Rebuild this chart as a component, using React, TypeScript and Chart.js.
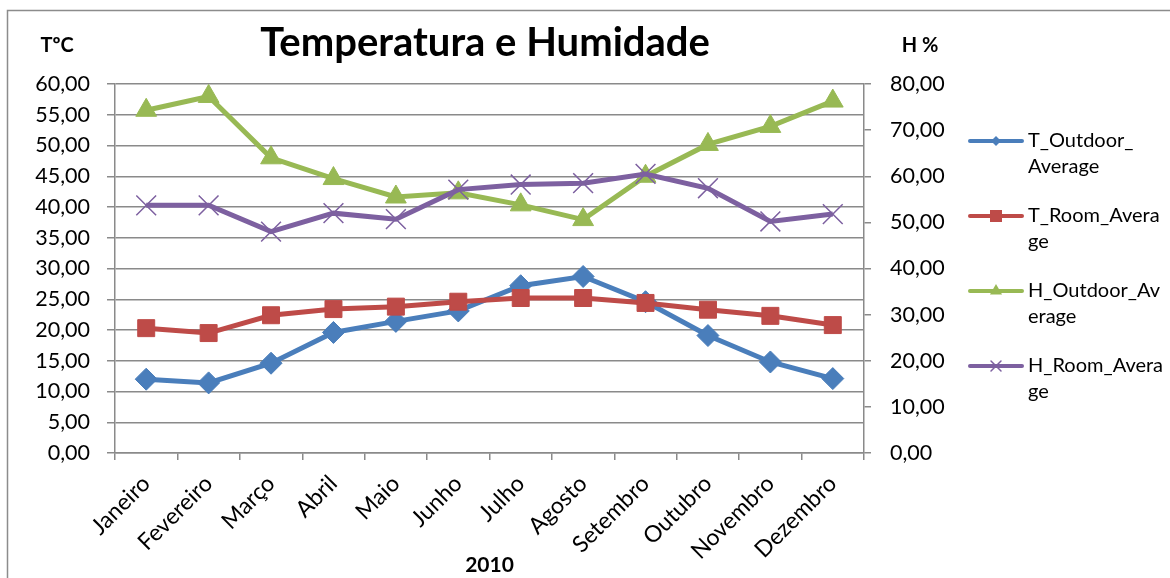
import React, { useEffect, useRef } from 'react';
import { Chart, registerables } from 'chart.js';

Chart.register(...registerables);

const months = ['Janeiro', 'Fevereiro', 'Março', 'Abril', 'Maio', 'Junho', 'Julho', 'Agosto', 'Setembro', 'Outubro', 'Novembro', 'Dezembro'];
const tOutdoor = [12.0, 11.4, 14.6, 19.6, 21.4, 23.1, 27.2, 28.7, 24.6, 19.1, 14.8, 12.1];
const tRoom = [20.3, 19.5, 22.4, 23.4, 23.8, 24.6, 25.2, 25.2, 24.4, 23.3, 22.3, 20.8];
const hOutdoor = [74.3, 77.3, 64.0, 59.5, 55.5, 56.4, 53.8, 50.6, 60.0, 66.9, 70.8, 76.3];
const hRoom = [53.7, 53.7, 48.0, 52.0, 50.7, 57.1, 58.2, 58.5, 60.5, 57.4, 50.2, 51.8];
const seriesNames = ['T_Outdoor_Average', 'T_Room_Average', 'H_Outdoor_Average', 'H_Room_Average'];
const legendLines = [['T_Outdoor_', 'Average'], ['T_Room_Avera', 'ge'], ['H_Outdoor_Av', 'erage'], ['H_Room_Avera', 'ge']];
const chartTitle = 'Temperatura e Humidade';
const leftTitle = 'TºC';
const rightTitle = 'H %';
const xTitle = '2010';

const FONT = 'Lato, "Noto Sans", sans-serif';
const GRID = '#8a8a8a';
const colors = ['#4A7EBB', '#BE4B48', '#98B954', '#7D60A0'];
const styles = ['rectRot', 'rect', 'triangle', 'crossRot'];

const fmt = (v: number) => v.toFixed(2).replace('.', ',');

function drawMarker(ctx: CanvasRenderingContext2D, style: string, x: number, y: number, r: number, color: string) {
  ctx.save();
  ctx.fillStyle = color;
  ctx.strokeStyle = color;
  ctx.beginPath();
  if (style === 'rectRot') {
    ctx.moveTo(x - r, y); ctx.lineTo(x, y - r); ctx.lineTo(x + r, y); ctx.lineTo(x, y + r); ctx.closePath(); ctx.fill();
  } else if (style === 'rect') {
    ctx.rect(x - r, y - r, 2 * r, 2 * r); ctx.fill();
  } else if (style === 'triangle') {
    ctx.moveTo(x, y - r);
    ctx.lineTo(x + r * 0.866, y + r * 0.5);
    ctx.lineTo(x - r * 0.866, y + r * 0.5);
    ctx.closePath(); ctx.fill();
  } else {
    ctx.lineWidth = 1.5;
    ctx.moveTo(x - r, y - r); ctx.lineTo(x + r, y + r);
    ctx.moveTo(x + r, y - r); ctx.lineTo(x - r, y + r);
    ctx.stroke();
  }
  ctx.restore();
}

const decor = {
  id: 'decor',
  beforeDraw(chart: any) {
    const ctx = chart.ctx as CanvasRenderingContext2D;
    ctx.save();
    ctx.fillStyle = '#fff';
    ctx.fillRect(0, 0, chart.width, chart.height);
    ctx.strokeStyle = '#8c8c8c';
    ctx.lineWidth = 1.5;
    ctx.strokeRect(7.5, 10.5, 1400, 800);
    ctx.restore();
  },
  afterDraw(chart: any) {
    const ctx = chart.ctx as CanvasRenderingContext2D;
    ctx.save();
    ctx.fillStyle = '#000';
    ctx.textBaseline = 'middle';
    ctx.textAlign = 'center';
    ctx.font = `bold 40px ${FONT}`;
    ctx.fillText(chartTitle, 485, 43);
    ctx.font = `bold 20px ${FONT}`;
    ctx.fillText(leftTitle, 57, 46);
    ctx.fillText(rightTitle, 920, 46);
    // legend
    ctx.textAlign = 'left';
    ctx.font = `20px ${FONT}`;
    chart.data.datasets.forEach((ds: any, i: number) => {
      const y = 141 + i * 75;
      ctx.strokeStyle = ds.borderColor;
      ctx.lineWidth = 4;
      ctx.lineCap = 'round';
      ctx.beginPath();
      ctx.moveTo(970, y);
      ctx.lineTo(1022, y);
      ctx.stroke();
      const r = styles[i] === 'rect' ? 6 : styles[i] === 'triangle' ? 7 : 5;
      drawMarker(ctx, styles[i], 996, y, r, ds.borderColor);
      ctx.fillStyle = '#000';
      legendLines[i].forEach((t, j) => ctx.fillText(t, 1028, y + j * 26));
    });
    ctx.restore();
  },
};

export default function App() {
  const ref = useRef<HTMLCanvasElement>(null);
  useEffect(() => {
    if (!ref.current) return;
    const series = [tOutdoor, tRoom, hOutdoor, hRoom];
    const axes = ['y', 'y', 'y1', 'y1'];
    const radii = [11, 12, 12, 14];
    const chart = new Chart(ref.current, {
      type: 'line',
      data: {
        labels: months,
        datasets: series.map((d, i) => ({
          label: seriesNames[i],
          data: d,
          yAxisID: axes[i],
          borderColor: colors[i],
          backgroundColor: colors[i],
          pointBackgroundColor: colors[i],
          pointBorderColor: colors[i],
          pointBorderWidth: i === 3 ? 1.5 : 1,
          borderWidth: 5,
          pointStyle: styles[i] as any,
          pointRadius: radii[i],
          tension: 0,
          order: 4 - i,
        })),
      },
      options: {
        responsive: false,
        animation: false,
        devicePixelRatio: 1,
        layout: { padding: { top: 84, left: 0, right: 0, bottom: 0 } },
        plugins: { legend: { display: false }, title: { display: false }, tooltip: { enabled: false } },
        scales: {
          x: {
            type: 'category',
            offset: true,
            grid: { offset: true, drawOnChartArea: false, drawTicks: true, tickLength: 7, color: GRID, lineWidth: 1.5 },
            border: { display: true, color: GRID, width: 1.5 },
            ticks: { autoSkip: false, maxRotation: 45, minRotation: 45, padding: 10, color: '#000', font: { family: FONT, size: 23 } },
            title: { display: true, text: xTitle, color: '#000', padding: 0, font: { family: FONT, size: 21, weight: 'bold' } },
            afterFit: (s: any) => { s.height = 125; },
          },
          y: {
            position: 'left',
            min: 0,
            max: 60,
            ticks: { stepSize: 5, padding: 17, color: '#000', font: { family: FONT, size: 21.5 }, callback: (v: any) => fmt(Number(v)) },
            grid: { color: GRID, lineWidth: 1.5, tickLength: 8 },
            border: { display: true, color: GRID, width: 1.5 },
            afterFit: (s: any) => { s.width = 115; },
          },
          y1: {
            position: 'right',
            min: 0,
            max: 80,
            ticks: { stepSize: 10, padding: 19, color: '#000', font: { family: FONT, size: 21.5 }, callback: (v: any) => fmt(Number(v)) },
            grid: { drawOnChartArea: false, color: GRID, lineWidth: 1.5, tickLength: 7 },
            border: { display: true, color: GRID, width: 1.5 },
            afterFit: (s: any) => { s.width = 306; },
          },
        },
      },
      plugins: [decor],
    });
    return () => chart.destroy();
  }, []);
  return (
    <div style={{ position: 'absolute', left: 0, top: 0, width: 1170, height: 578, background: '#fff' }}>
      <canvas ref={ref} width={1170} height={578} style={{ display: 'block', width: 1170, height: 578 }} />
    </div>
  );
}
